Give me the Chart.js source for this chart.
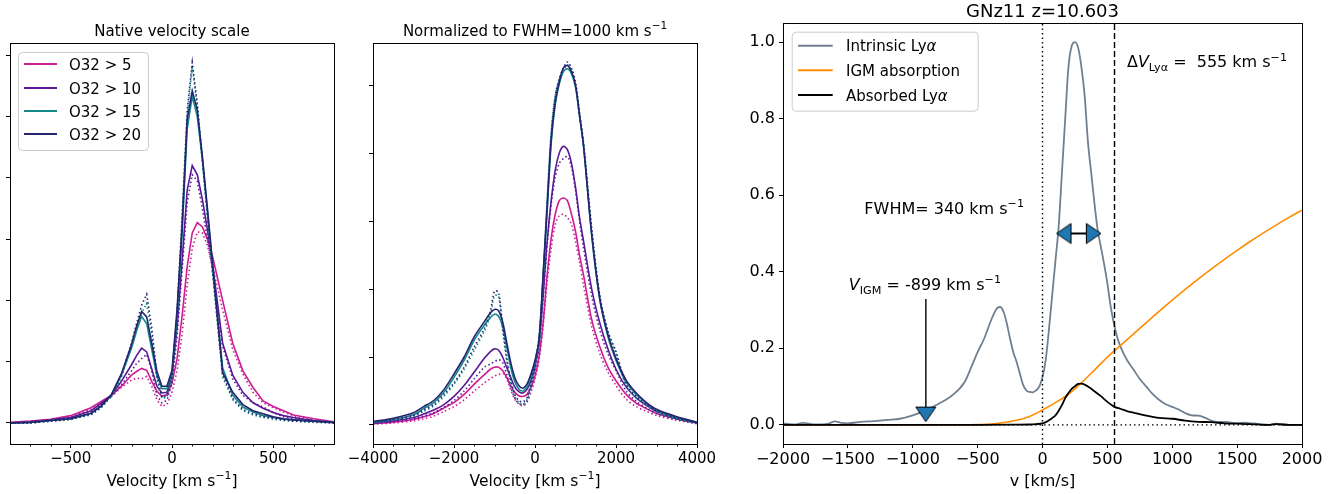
<!DOCTYPE html>
<html>
<head>
<meta charset="utf-8">
<script src="https://cdn.jsdelivr.net/npm/chart.js@4.4.1/dist/chart.umd.min.js"></script>
<style>
  html, body { margin: 0; padding: 0; background: #fff; }
  #wrap { position: relative; width: 1343px; height: 494px; overflow: hidden; }
  #wrap canvas { position: absolute; top: 0; }
</style>
</head>
<body>
<div id="wrap">
  <canvas id="c1" width="345" height="494" style="left:0;width:345px;height:494px"></canvas>
  <canvas id="c2" width="375" height="494" style="left:345px;width:375px;height:494px"></canvas>
  <canvas id="c3" width="623" height="494" style="left:720px;width:623px;height:494px"></canvas>
</div>
<script>
/* ---------- data: panel 1 (native velocity) ---------- */
const vNative = [-800,-700,-600,-500,-400,-350,-300,-250,-200,-175,-150,-125,-100,-75,-50,-25,0,25,50,75,100,125,150,175,200,250,300,350,400,450,500,550,600,700,800];
const nat5   = [0.01,0.03,0.06,0.12,0.25,0.35,0.45,0.6,0.78,0.84,0.89,0.86,0.68,0.52,0.44,0.46,0.65,1.05,1.75,2.55,3.1,3.27,3.2,3.0,2.72,2.0,1.3,0.85,0.58,0.36,0.27,0.2,0.13,0.07,0.02];
const nat5d  = [0.0,0.02,0.05,0.1,0.22,0.33,0.43,0.58,0.7,0.73,0.72,0.76,0.6,0.38,0.27,0.3,0.5,0.85,1.45,2.25,2.85,3.12,3.1,2.9,2.55,1.85,1.2,0.8,0.5,0.33,0.25,0.18,0.12,0.05,0.01];
const nat10  = [0.0,0.02,0.05,0.09,0.2,0.32,0.45,0.68,0.95,1.1,1.22,1.16,0.88,0.6,0.49,0.5,0.78,1.55,2.65,3.8,4.2,4.05,3.65,3.15,2.6,1.3,0.78,0.5,0.33,0.24,0.17,0.12,0.09,0.04,0.01];
const nat10d = [0.0,0.01,0.04,0.08,0.18,0.3,0.43,0.62,0.85,0.97,1.05,1.12,0.85,0.45,0.33,0.37,0.65,1.4,2.5,3.6,4.05,3.95,3.5,3.0,2.5,1.25,0.72,0.45,0.33,0.26,0.17,0.1,0.07,0.03,0.0];
const nat15  = [0.0,0.01,0.04,0.07,0.16,0.27,0.45,0.78,1.22,1.5,1.74,1.62,1.2,0.78,0.56,0.56,0.82,1.75,3.1,4.8,5.33,5.0,4.3,3.45,2.55,0.9,0.45,0.26,0.18,0.12,0.09,0.06,0.05,0.03,0.01];
const nat15d = [0.0,0.0,0.03,0.06,0.13,0.25,0.43,0.75,1.25,1.55,1.8,1.95,1.45,0.7,0.4,0.42,0.72,1.7,3.3,5.0,5.82,5.15,4.25,3.35,2.45,0.75,0.38,0.2,0.13,0.09,0.06,0.04,0.03,0.01,0.0];
const nat20  = [0.0,0.01,0.04,0.07,0.16,0.28,0.46,0.8,1.28,1.58,1.82,1.73,1.3,0.85,0.6,0.6,0.86,1.85,3.2,4.95,5.42,5.1,4.35,3.5,2.62,0.82,0.5,0.3,0.2,0.15,0.1,0.07,0.05,0.03,0.01];
const nat20d = [0.0,0.0,0.03,0.06,0.14,0.25,0.45,0.78,1.3,1.62,1.92,2.1,1.55,0.8,0.42,0.45,0.75,1.8,3.4,5.1,5.88,5.2,4.3,3.4,2.5,0.8,0.4,0.22,0.15,0.1,0.08,0.05,0.03,0.02,0.0];

/* ---------- data: panel 2 (normalized to FWHM=1000) ---------- */
const vNorm = [-4000,-3500,-3000,-2750,-2500,-2250,-2000,-1750,-1500,-1250,-1100,-1000,-900,-800,-700,-600,-500,-400,-300,-200,-100,0,100,200,300,400,500,600,700,800,900,1000,1100,1200,1400,1600,1800,2000,2250,2500,2750,3000,3500,4000];
const norm5   = [0.02,0.04,0.08,0.12,0.17,0.25,0.33,0.45,0.6,0.74,0.82,0.85,0.85,0.8,0.7,0.58,0.48,0.43,0.42,0.45,0.55,0.72,1.0,1.5,2.2,2.75,3.1,3.3,3.34,3.3,3.1,2.85,2.5,2.2,1.55,1.15,0.85,0.65,0.45,0.32,0.24,0.17,0.09,0.03];
const norm5d  = [0.01,0.03,0.06,0.09,0.13,0.2,0.27,0.37,0.5,0.62,0.68,0.72,0.74,0.76,0.68,0.52,0.38,0.31,0.28,0.33,0.48,0.68,0.95,1.45,2.1,2.6,2.95,3.08,3.1,3.05,2.95,2.7,2.4,2.05,1.45,1.05,0.78,0.58,0.38,0.27,0.2,0.14,0.07,0.02];
const norm10  = [0.03,0.06,0.11,0.16,0.22,0.3,0.42,0.58,0.78,0.98,1.08,1.12,1.1,1.0,0.85,0.7,0.56,0.49,0.47,0.52,0.65,0.85,1.2,1.9,2.7,3.3,3.75,4.0,4.1,4.05,3.85,3.5,3.05,2.7,2.0,1.5,1.12,0.82,0.56,0.4,0.29,0.2,0.1,0.03];
const norm10d = [0.02,0.05,0.09,0.13,0.18,0.26,0.36,0.5,0.68,0.85,0.9,0.93,0.96,0.92,0.75,0.55,0.4,0.32,0.3,0.36,0.55,0.8,1.15,1.85,2.65,3.25,3.65,3.85,3.92,3.95,3.8,3.45,3.0,2.6,1.9,1.4,1.05,0.8,0.5,0.35,0.25,0.17,0.08,0.02];
const norm15  = [0.04,0.08,0.15,0.24,0.33,0.48,0.7,0.95,1.25,1.47,1.58,1.63,1.6,1.45,1.15,0.85,0.64,0.53,0.5,0.56,0.72,0.92,1.22,2.15,3.15,4.15,4.72,5.02,5.2,5.24,5.17,4.97,4.55,4.1,2.8,1.85,1.3,0.95,0.63,0.45,0.32,0.22,0.11,0.04];
const norm15d = [0.03,0.07,0.13,0.2,0.28,0.42,0.6,0.82,1.1,1.38,1.62,1.9,1.9,1.4,0.95,0.62,0.42,0.33,0.3,0.37,0.58,0.9,1.28,2.2,3.3,4.3,4.85,5.08,5.2,5.3,5.22,5.0,4.55,4.1,2.85,1.9,1.38,1.05,0.58,0.4,0.29,0.19,0.09,0.03];
const norm20  = [0.05,0.1,0.18,0.27,0.36,0.52,0.75,1.0,1.3,1.52,1.65,1.7,1.68,1.52,1.22,0.92,0.7,0.58,0.54,0.6,0.75,0.95,1.25,2.2,3.2,4.2,4.75,5.05,5.25,5.29,5.2,5.0,4.55,4.1,2.8,1.85,1.33,0.98,0.66,0.47,0.33,0.23,0.12,0.04];
const norm20d = [0.04,0.08,0.14,0.22,0.3,0.45,0.62,0.85,1.15,1.42,1.68,1.97,1.95,1.45,1.0,0.66,0.45,0.36,0.34,0.4,0.62,0.92,1.3,2.2,3.3,4.3,4.85,5.1,5.25,5.34,5.25,5.05,4.6,4.15,2.9,1.9,1.38,1.08,0.6,0.42,0.3,0.2,0.1,0.03];

/* ---------- data: panel 3 (GNz11) ---------- */
const vIntr = [-2000,-1950,-1900,-1850,-1800,-1750,-1700,-1650,-1600,-1550,-1500,-1400,-1300,-1200,-1100,-1000,-900,-800,-700,-600,-550,-500,-450,-400,-375,-350,-325,-300,-275,-250,-225,-200,-175,-150,-125,-100,-75,-50,-25,0,25,50,75,100,125,150,175,200,225,250,275,300,325,350,375,400,425,450,475,500,525,550,575,600,650,700,750,800,850,900,950,1000,1050,1100,1150,1200,1250,1300,1350,1400,1450,1500,1550,1600,1650,1700,1750,1800,1850,1900,2000];
const intrinsic = [0.004,0.002,0.001,0.005,0.003,0.001,0.001,0.003,0.009,0.005,0.004,0.008,0.010,0.013,0.016,0.025,0.038,0.055,0.076,0.112,0.150,0.190,0.225,0.27,0.29,0.305,0.308,0.295,0.265,0.225,0.19,0.165,0.135,0.105,0.09,0.086,0.085,0.09,0.10,0.125,0.17,0.25,0.34,0.43,0.52,0.66,0.80,0.935,0.99,1.0,0.985,0.935,0.86,0.74,0.66,0.58,0.51,0.465,0.42,0.37,0.31,0.265,0.23,0.205,0.17,0.145,0.12,0.10,0.08,0.065,0.054,0.047,0.04,0.031,0.025,0.024,0.019,0.011,0.007,0.008,0.006,0.004,0.006,0.004,0.003,0.001,0.0,0.003,0.001,0.0,0.0];
const vIgm = [-2000,-1500,-1000,-800,-600,-500,-400,-300,-200,-100,0,100,200,300,400,500,600,700,800,900,1000,1100,1200,1300,1400,1500,1600,1700,1800,1900,2000];
const igm  = [0,0,0,0,0,0.0005,0.002,0.006,0.012,0.022,0.039,0.058,0.08,0.11,0.143,0.177,0.207,0.237,0.267,0.297,0.326,0.354,0.381,0.407,0.432,0.456,0.479,0.501,0.522,0.542,0.561];
const vAbs = [-2000,-1000,-500,-200,-100,-50,0,25,50,75,100,125,150,175,200,225,250,275,300,325,350,400,450,500,555,600,650,700,800,900,1000,1100,1200,1300,1400,1500,1600,1700,1750,1800,1900,2000];
const absorbed = [0,0,0,0.0005,0.001,0.002,0.004,0.007,0.012,0.018,0.025,0.037,0.052,0.07,0.083,0.094,0.101,0.107,0.108,0.105,0.1,0.088,0.075,0.06,0.047,0.042,0.036,0.032,0.024,0.018,0.016,0.011,0.008,0.007,0.004,0.003,0.002,0.0,0.0,0.002,0.0,0.0];
const V_IGM = -899, DV_LYA = 555;
const FWHM_ENDS = [166, 392];

/* ticks */
const X1_TICKS = [-500, 0, 500], X1_MINOR = [-700,-600,-400,-300,-200,-100,100,200,300,400,600,700];
const X2_TICKS = [-4000,-2000,0,2000,4000], X2_MINOR = [-3500,-3000,-2500,-1500,-1000,-500,500,1000,1500,2500,3000,3500];
const X3_TICKS = [-2000,-1500,-1000,-500,0,500,1000,1500,2000];
const Y1_TICKS = [0,1,2,3,4,5,6], Y2_TICKS = [0,1,2,3,4,5];
const Y3_TICKS = [0,0.2,0.4,0.6,0.8,1.0];

const FONT = 'DejaVu Sans';
const COL = { o5:'#cc1d92', o10:'#5a1896', o15:'#14898a', o20:'#24236f' };
const LEG1 = [['O32 > 5', COL.o5], ['O32 > 10', COL.o10], ['O32 > 15', COL.o15], ['O32 > 20', COL.o20]];

/* ---------- helpers ---------- */
const pts = (xs, ys) => xs.map((x, i) => ({ x, y: ys[i] }));
const minus = v => (v < 0 ? '\u2212' + Math.abs(v) : String(v));

function rich(ctx, parts, x, y, size, align){
  const small = size * 0.7;
  const fontOf = p => `${p.i ? 'italic ' : ''}${p.sub || p.sup ? small : size}px "${FONT}"`;
  let w = 0;
  parts.forEach(p => { ctx.font = fontOf(p); p.w = ctx.measureText(p.t).width; w += p.w; });
  let cx = align === 'center' ? x - w / 2 : align === 'right' ? x - w : x;
  ctx.textAlign = 'left'; ctx.textBaseline = 'alphabetic'; ctx.fillStyle = '#000';
  parts.forEach(p => {
    ctx.font = fontOf(p);
    const dy = p.sub ? size * 0.22 : p.sup ? -size * 0.42 : 0;
    ctx.fillText(p.t, cx, y + dy);
    cx += p.w;
  });
}

function legendBox(ctx, L){
  ctx.save();
  ctx.beginPath();
  ctx.roundRect(L.x + 0.5, L.y + 0.5, L.w, L.h, 4);
  ctx.fillStyle = 'rgba(255,255,255,0.85)'; ctx.fill();
  ctx.strokeStyle = '#cccccc'; ctx.lineWidth = 1; ctx.stroke();
  L.rows.forEach(r => {
    ctx.beginPath(); ctx.moveTo(L.h0, r.y); ctx.lineTo(L.h1, r.y);
    ctx.strokeStyle = r.color; ctx.lineWidth = 2; ctx.stroke();
    rich(ctx, r.parts, L.tx, r.y + 5.5, L.size, 'left');
  });
  ctx.restore();
}

// spines, minor ticks, titles, labels, legends
function deco(spec){
  return {
    id: 'deco',
    afterDatasetsDraw(c){
      const { ctx, chartArea: a, scales } = c;
      ctx.save();
      ctx.strokeStyle = '#000'; ctx.lineWidth = 1;
      ctx.strokeRect(Math.round(a.left) + 0.5, Math.round(a.top) + 0.5, Math.round(a.right - a.left), Math.round(a.bottom - a.top));
      (spec.minor || []).forEach(v => {
        const px = Math.round(scales.x.getPixelForValue(v)) + 0.5;
        ctx.beginPath(); ctx.moveTo(px, a.bottom); ctx.lineTo(px, a.bottom + 2.5); ctx.stroke();
      });
      const cx = (a.left + a.right) / 2;
      rich(ctx, spec.title.parts, cx, spec.title.y, spec.title.size, 'center');
      rich(ctx, spec.xlabel.parts, cx, spec.xlabel.y, spec.xlabel.size, 'center');
      (spec.notes || []).forEach(n => {
        rich(ctx, n.parts, scales.x.getPixelForValue(n.x), scales.y.getPixelForValue(n.y), n.size, 'left');
      });
      if (spec.legend) legendBox(ctx, spec.legend);
      ctx.restore();
    }
  };
}

function scalesFor(o){
  return {
    x: {
      type: 'linear', min: o.xmin, max: o.xmax,
      afterBuildTicks: s => { s.ticks = o.xticks.map(value => ({ value })); },
      afterFit: s => { s.height = 50; },
      ticks: { font: { family: FONT, size: o.tickSize }, color: '#000', padding: o.xpad, maxRotation: 0, callback: v => minus(v) },
      grid: { drawOnChartArea: false, drawTicks: true, tickLength: 4, color: '#000' },
      border: { display: false }
    },
    y: {
      type: 'linear', min: o.ymin, max: o.ymax,
      afterBuildTicks: s => { s.ticks = o.yticks.map(value => ({ value })); },
      afterFit: s => { s.width = o.yw; },
      ticks: { display: o.ylabels, font: { family: FONT, size: o.tickSize }, color: '#000', padding: 4, callback: v => v.toFixed(1) },
      grid: { drawOnChartArea: false, drawTicks: true, tickLength: 4, color: '#000' },
      border: { display: false }
    }
  };
}

const baseOpts = (pad, scales) => ({
  responsive: false, animation: false, devicePixelRatio: 1, events: [],
  layout: { padding: pad },
  plugins: { legend: { display: false }, tooltip: { enabled: false } },
  elements: { point: { radius: 0 } },
  scales
});

function line(xs, ys, color, dotted, k, tension){
  return { data: pts(xs, ys), borderColor: color, borderWidth: 1.6, borderDash: dotted ? [1.5, 2.6] : [],
           pointRadius: 0, tension, fill: false, order: -k };
}

/* ---------- panel 1 ---------- */
new Chart(document.getElementById('c1'), {
  type: 'line',
  data: { datasets: [
    line(vNative, nat5, COL.o5, false, 0, 0), line(vNative, nat5d, COL.o5, true, 1, 0),
    line(vNative, nat10, COL.o10, false, 2, 0), line(vNative, nat10d, COL.o10, true, 3, 0),
    line(vNative, nat15, COL.o15, false, 4, 0), line(vNative, nat15d, COL.o15, true, 5, 0),
    line(vNative, nat20, COL.o20, false, 6, 0), line(vNative, nat20d, COL.o20, true, 7, 0)
  ]},
  options: baseOpts({ left: 0, right: 11, top: 43, bottom: 0 },
    scalesFor({ xmin: -800, xmax: 800, xticks: X1_TICKS, ymin: -0.343, ymax: 6.2, yticks: Y1_TICKS, yw: 10, ylabels: false, tickSize: 15, xpad: 2 })),
  plugins: [deco({
    minor: X1_MINOR,
    title: { parts: [{ t: 'Native velocity scale' }], y: 35.5, size: 15 },
    xlabel: { parts: [{ t: 'Velocity [km s' }, { t: '\u22121', sup: true }, { t: ']' }], y: 486, size: 15.5 },
    legend: { x: 18, y: 52, w: 130, h: 98, h0: 24, h1: 57, tx: 69, size: 15,
      rows: LEG1.map((r, i) => ({ y: [64, 88, 111, 134][i], color: r[1], parts: [{ t: r[0] }] })) }
  })]
});

/* ---------- panel 2 ---------- */
new Chart(document.getElementById('c2'), {
  type: 'line',
  data: { datasets: [
    line(vNorm, norm5, COL.o5, false, 0, 0.3), line(vNorm, norm5d, COL.o5, true, 1, 0.3),
    line(vNorm, norm10, COL.o10, false, 2, 0.3), line(vNorm, norm10d, COL.o10, true, 3, 0.3),
    line(vNorm, norm15, COL.o15, false, 4, 0.3), line(vNorm, norm15d, COL.o15, true, 5, 0.3),
    line(vNorm, norm20, COL.o20, false, 6, 0.3), line(vNorm, norm20d, COL.o20, true, 7, 0.3)
  ]},
  options: baseOpts({ left: 18, right: 23, top: 43, bottom: 0 },
    scalesFor({ xmin: -4000, xmax: 4000, xticks: X2_TICKS, ymin: -0.28, ymax: 5.62, yticks: Y2_TICKS, yw: 10, ylabels: false, tickSize: 15, xpad: 2 })),
  plugins: [deco({
    minor: X2_MINOR,
    title: { parts: [{ t: 'Normalized to FWHM=1000 km s' }, { t: '\u22121', sup: true }], y: 35.5, size: 15 },
    xlabel: { parts: [{ t: 'Velocity [km s' }, { t: '\u22121', sup: true }, { t: ']' }], y: 486, size: 15.5 }
  })]
});

/* ---------- panel 3 ---------- */
function triangle(){
  const cv = document.createElement('canvas');
  cv.width = 22; cv.height = 17;
  const g = cv.getContext('2d');
  g.beginPath(); g.moveTo(11, 1); g.lineTo(21, 15.5); g.lineTo(1, 15.5); g.closePath();
  g.fillStyle = '#1f77b4'; g.fill();
  g.strokeStyle = '#000'; g.lineWidth = 1; g.stroke();
  return cv;
}
const TRI = triangle();

new Chart(document.getElementById('c3'), {
  type: 'line',
  data: { datasets: [
    { data: pts(vIntr, intrinsic), borderColor: '#708090', borderWidth: 1.8, pointRadius: 0, cubicInterpolationMode: 'monotone', order: 0 },
    { data: pts(vIgm, igm), borderColor: '#ff8c00', borderWidth: 1.6, pointRadius: 0, cubicInterpolationMode: 'monotone', order: -1 },
    { data: pts(vAbs, absorbed), borderColor: '#000', borderWidth: 1.8, pointRadius: 0, cubicInterpolationMode: 'monotone', order: -2 },
    { data: [{ x: 0, y: -0.05 }, { x: 0, y: 1.05 }], borderColor: '#000', borderWidth: 1.4, borderDash: [1.5, 3], pointRadius: 0, order: -3 },
    { data: [{ x: -2000, y: 0 }, { x: 2000, y: 0 }], borderColor: '#000', borderWidth: 1.4, borderDash: [1.5, 3], pointRadius: 0, order: -4 },
    { data: [{ x: DV_LYA, y: -0.05 }, { x: DV_LYA, y: 1.05 }], borderColor: '#000', borderWidth: 1.4, borderDash: [6, 3], pointRadius: 0, order: -5 },
    { data: [{ x: V_IGM, y: 0.329 }, { x: V_IGM, y: 0.035 }], borderColor: '#000', borderWidth: 1.4, pointRadius: 0, order: -6 },
    { data: [{ x: V_IGM, y: 0.028 }], showLine: false, pointRadius: 8, pointStyle: TRI, pointRotation: 180, order: -7 },
    { data: [{ x: FWHM_ENDS[0], y: 0.5 }, { x: FWHM_ENDS[1], y: 0.5 }], borderColor: '#000', borderWidth: 2,
      pointRadius: 8, pointStyle: TRI, pointRotation: [270, 90], order: -8 }
  ]},
  options: baseOpts({ left: 0, right: 41, top: 23, bottom: 0 },
    scalesFor({ xmin: -2000, xmax: 2000, xticks: X3_TICKS, ymin: -0.05, ymax: 1.05, yticks: Y3_TICKS, yw: 63, ylabels: true, tickSize: 16, xpad: 2 })),
  plugins: [deco({
    title: { parts: [{ t: 'GNz11 z=10.603' }], y: 16.7, size: 18 },
    xlabel: { parts: [{ t: 'v [km/s]' }], y: 486, size: 16 },
    notes: [
      { x: 651, y: 0.934, size: 16, parts: [{ t: '\u0394' }, { t: 'V', i: true }, { t: 'Ly\u03b1', sub: true }, { t: ' =  555 km s' }, { t: '\u22121', sup: true }] },
      { x: -1373, y: 0.551, size: 16, parts: [{ t: 'FWHM= 340 km s' }, { t: '\u22121', sup: true }] },
      { x: -1493, y: 0.352, size: 16, parts: [{ t: 'V', i: true }, { t: 'IGM', sub: true }, { t: ' = -899 km s' }, { t: '\u22121', sup: true }] }
    ],
    legend: { x: 71.7, y: 31.7, w: 186, h: 79, h0: 78, h1: 112.7, tx: 126, size: 15,
      rows: [
        { y: 45.7, color: '#708090', parts: [{ t: 'Intrinsic Ly' }, { t: '\u03b1', i: true }] },
        { y: 70.3, color: '#ff8c00', parts: [{ t: 'IGM absorption' }] },
        { y: 95, color: '#000', parts: [{ t: 'Absorbed Ly' }, { t: '\u03b1', i: true }] }
      ] }
  })]
});
</script>
</body>
</html>
